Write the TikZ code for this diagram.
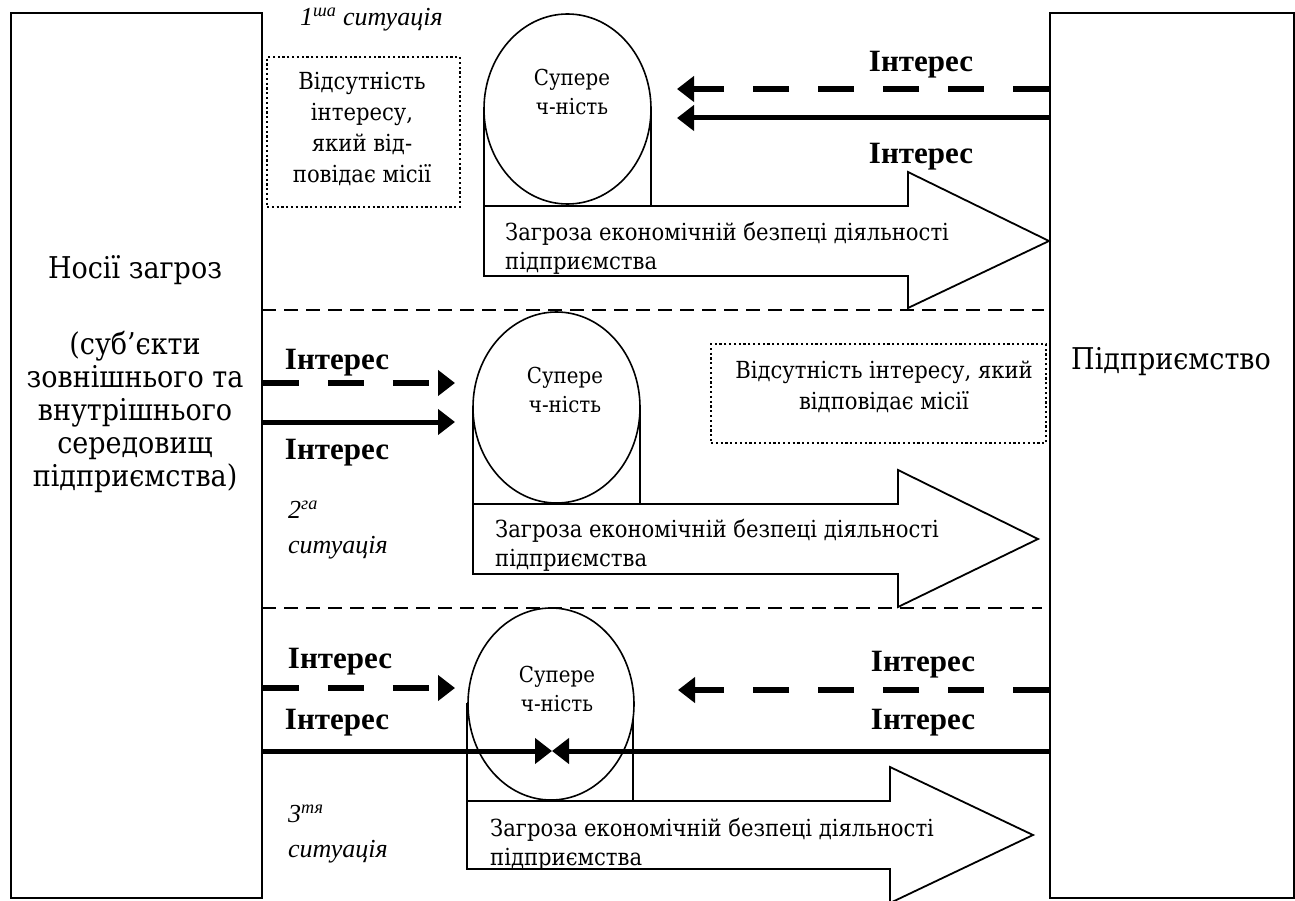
\documentclass[tikz,border=0pt]{standalone}
\usepackage{fontspec}
\setmainfont{Liberation Serif}
\IfFontExistsTF{DejaVu Serif Condensed}{%
  \newfontfamily\rmtext{DejaVu Serif Condensed}}{%
  \newfontfamily\rmtext{DejaVu Serif}}
\usetikzlibrary{arrows.meta,shapes.geometric}
\begin{document}
\begin{tikzpicture}[x=1pt,y=-1pt,
  box/.style={draw, line width=1.8pt, inner sep=0pt},
  sep/.style={line width=1.6pt, dash pattern=on 14pt off 8pt},
  dotbox/.style={draw, line width=2pt, dash pattern=on 2.2pt off 2.6pt, inner sep=0pt},
  stand/.style={line width=1.6pt},
  ell/.style={draw, ellipse, fill=white, line width=1.6pt, inner sep=0pt},
  bigarrow/.style={draw, line width=1.8pt, fill=white},
  tip/.style={-{Triangle[length=17pt,width=25pt]}},
  tdash/.style={tip, line width=5.5pt, dash pattern=on 36pt off 29pt},
  tsolid/.style={tip, line width=5pt},
  big/.style={font=\rmtext\fontsize{30}{33}\selectfont, align=center, inner sep=0pt},
  lbl/.style={font=\bfseries\fontsize{31}{31}\selectfont, inner sep=0pt},
  txt/.style={font=\rmtext\fontsize{23.5}{29}\selectfont, align=left, inner sep=0pt, anchor=west},
  dtxt/.style={font=\rmtext\fontsize{23.5}{31}\selectfont, align=center, inner sep=0pt},
  etxt/.style={font=\rmtext\fontsize{22}{29}\selectfont, align=center, inner sep=0pt},
  sit/.style={font=\itshape\fontsize{26}{35}\selectfont, align=left, inner sep=0pt, anchor=west}
]
\useasboundingbox (0,0) rectangle (1295,901);

% side boxes
\node[box, anchor=north west, minimum width=251pt, minimum height=885pt] (carriers) at (10,12) {};
\node[box, anchor=north west, minimum width=244pt, minimum height=885pt] (firm) at (1049,12) {};
\node[big] (ct1) at (135,270) {Носії загроз};
\node[big] (ct2) at (135,412) {(суб’єкти\\зовнішнього та\\внутрішнього\\середовищ\\підприємства)};
\node[big] (ft) at (1171,362) {Підприємство};

% separators
\coordinate (s1a) at (262,310);
\coordinate (s1b) at (1044,310);
\coordinate (s2a) at (262,608);
\coordinate (s2b) at (1042,608);
\draw[sep] (s1a) -- (s1b);
\draw[sep] (s2a) -- (s2b);

% situation labels
\node[sit] (sl1) at (300,20) {1\textsuperscript{ша} ситуація};
\node[sit] (sl2) at (288,530) {2\textsuperscript{га}\\ситуація};
\node[sit] (sl3) at (288,834) {3\textsuperscript{тя}\\ситуація};

% dotted boxes
\node[dotbox, anchor=north west, minimum width=193pt, minimum height=150pt] (d1) at (266,56) {};
\node[dtxt] (d1t) at (362,129) {Відсутність\\інтересу,\\який від-\\повідає місії};
\node[dotbox, anchor=north west, minimum width=335pt, minimum height=99pt] (d2) at (710,343) {};
\node[dtxt] (d2t) at (884,387) {Відсутність інтересу, який\\відповідає місії};

% situation 1
\draw[stand] (484,109) rectangle (651,206);
\node[ell, minimum width=167pt, minimum height=190pt] (e1) at (567.5,109) {};
\node[etxt] (e1t) at (572,92) {Супере\\ч-ність};
\draw[bigarrow] (484,206) -- (908,206) -- (908,172) -- (1049,241) -- (908,308) -- (908,276) -- (484,276) -- cycle;
\node[txt] (a1t) at (505,248) {Загроза економічній безпеці діяльності\\підприємства};

% situation 2
\draw[stand] (473,407) rectangle (640,504);
\node[ell, minimum width=167pt, minimum height=191pt] (e2) at (556.5,407.5) {};
\node[etxt] (e2t) at (565,390) {Супере\\ч-ність};
\draw[bigarrow] (473,504) -- (898,504) -- (898,470) -- (1038,539) -- (898,607) -- (898,574) -- (473,574) -- cycle;
\node[txt] (a2t) at (495,545) {Загроза економічній безпеці діяльності\\підприємства};

% situation 3
\draw[stand] (467,704) rectangle (633,801);
\node[ell, minimum width=166pt, minimum height=192pt] (e3) at (551,704) {};
\node[etxt] (e3t) at (557,689) {Супере\\ч-ність};
\draw[bigarrow] (467,801) -- (890,801) -- (890,767) -- (1033,835) -- (890,903) -- (890,869) -- (467,869) -- cycle;
\node[txt] (a3t) at (490,844) {Загроза економічній безпеці діяльності\\підприємства};

% interest labels
\node[lbl] (i1a) at (921,65) {Інтерес};
\node[lbl] (i1b) at (921,157) {Інтерес};
\node[lbl] (i2a) at (337,363) {Інтерес};
\node[lbl] (i2b) at (337,453) {Інтерес};
\node[lbl] (i3a) at (340,662) {Інтерес};
\node[lbl] (i3b) at (337,723) {Інтерес};
\node[lbl] (i3c) at (923,665) {Інтерес};
\node[lbl] (i3d) at (923,723) {Інтерес};

% interest arrows
\coordinate (t1d) at (677,89);
\coordinate (t1s) at (677,118);
\draw[tdash] (firm.west |- t1d) -- (t1d);
\draw[tsolid] (firm.west |- t1s) -- (t1s);

\coordinate (t2d) at (455,383);
\coordinate (t2s) at (455,422);
\draw[tdash] (carriers.east |- t2d) -- (t2d);
\draw[tsolid] (carriers.east |- t2s) -- (t2s);

\coordinate (t3d) at (455,688);
\coordinate (t3r) at (678,690);
\coordinate (t3m) at (552,751);
\draw[tdash] (carriers.east |- t3d) -- (t3d);
\draw[tdash] (firm.west |- t3r) -- (t3r);
\draw[tsolid] (carriers.east |- t3m) -- (t3m);
\draw[tsolid] (firm.west |- t3m) -- (t3m);
\end{tikzpicture}
\end{document}
